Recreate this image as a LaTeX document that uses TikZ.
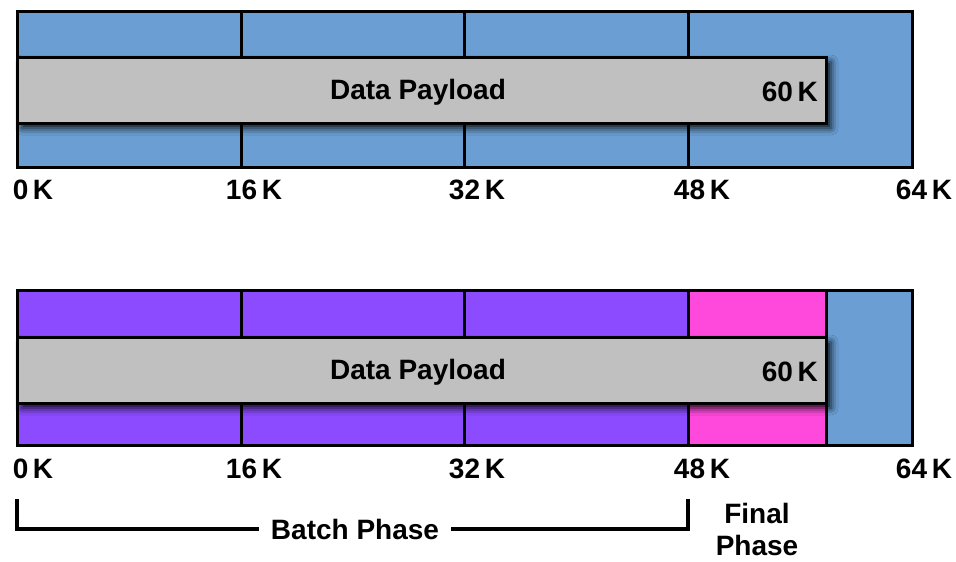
\documentclass[tikz,border=0pt]{standalone}
\usepackage{fontspec}
\setmainfont{Liberation Sans}
\usetikzlibrary{shadows.blur}
\definecolor{segblue}{RGB}{107,159,212}
\definecolor{segpurple}{RGB}{140,75,255}
\definecolor{segpink}{RGB}{255,72,220}
\definecolor{payload}{RGB}{192,192,192}
\tikzset{
  seg/.style={draw=black, line width=3pt, rectangle, inner sep=0pt, outer sep=0pt, anchor=north west},
  pay/.style={draw=black, line width=3pt, fill=payload, rectangle, inner sep=0pt, outer sep=0pt,
    anchor=north west, minimum width=809pt, minimum height=66pt,
    blur shadow={shadow xshift=5pt, shadow yshift=-5pt, shadow blur radius=7pt, shadow opacity=90}},
  lbl/.style={font=\fontsize{28}{30}\selectfont\bfseries, inner sep=0pt},
  bracket/.style={line width=4pt, line cap=butt, line join=miter},
}
\begin{document}
\begin{tikzpicture}[x=1pt, y=-1pt]
\useasboundingbox (0,0) rectangle (956,562);

% ---- upper bar: four 16K blocks ----
\node[seg, fill=segblue, minimum width=224pt, minimum height=156pt] (a1) at (17,11) {};
\node[seg, fill=segblue, minimum width=223pt, minimum height=156pt] (a2) at (241,11) {};
\node[seg, fill=segblue, minimum width=224pt, minimum height=156pt] (a3) at (464,11) {};
\node[seg, fill=segblue, minimum width=224pt, minimum height=156pt] (a4) at (688,11) {};
\node[pay] (pa) at (17,57) {};
\node[lbl] (pat) at (418,92) {Data Payload};
\node[lbl, anchor=east] (pak) at (818,92) {60\,K};

\node[lbl] (ta0) at (33,190) {0\,K};
\node[lbl] (ta1) at (254,190) {16\,K};
\node[lbl] (ta2) at (477,190) {32\,K};
\node[lbl] (ta3) at (702,190) {48\,K};
\node[lbl] (ta4) at (924,190) {64\,K};

% ---- lower bar: batch blocks, final block, unused rest ----
\node[seg, fill=segpurple, minimum width=224pt, minimum height=155pt] (b1) at (17,290) {};
\node[seg, fill=segpurple, minimum width=223pt, minimum height=155pt] (b2) at (241,290) {};
\node[seg, fill=segpurple, minimum width=224pt, minimum height=155pt] (b3) at (464,290) {};
\node[seg, fill=segpink, minimum width=138pt, minimum height=155pt] (b4) at (688,290) {};
\node[seg, fill=segblue, minimum width=86pt, minimum height=155pt] (b5) at (826,290) {};
\node[pay] (pb) at (17,337) {};
\node[lbl] (pbt) at (418,372) {Data Payload};
\node[lbl, anchor=east] (pbk) at (818,372) {60\,K};

\node[lbl] (tb0) at (33,469) {0\,K};
\node[lbl] (tb1) at (254,469) {16\,K};
\node[lbl] (tb2) at (477,469) {32\,K};
\node[lbl] (tb3) at (702,469) {48\,K};
\node[lbl] (tb4) at (924,469) {64\,K};

% ---- phase bracket ----
\coordinate (bl) at (17,499);
\coordinate (br) at (688,499);
\node[lbl, inner xsep=12pt] (batch) at (355,529) {Batch Phase};
\draw[bracket] (bl) |- (batch.west);
\draw[bracket] (batch.east) -| (br);
\node[lbl, align=center, font=\fontsize{28}{32}\selectfont\bfseries] (final) at (757,529) {Final\\Phase};
\end{tikzpicture}
\end{document}
